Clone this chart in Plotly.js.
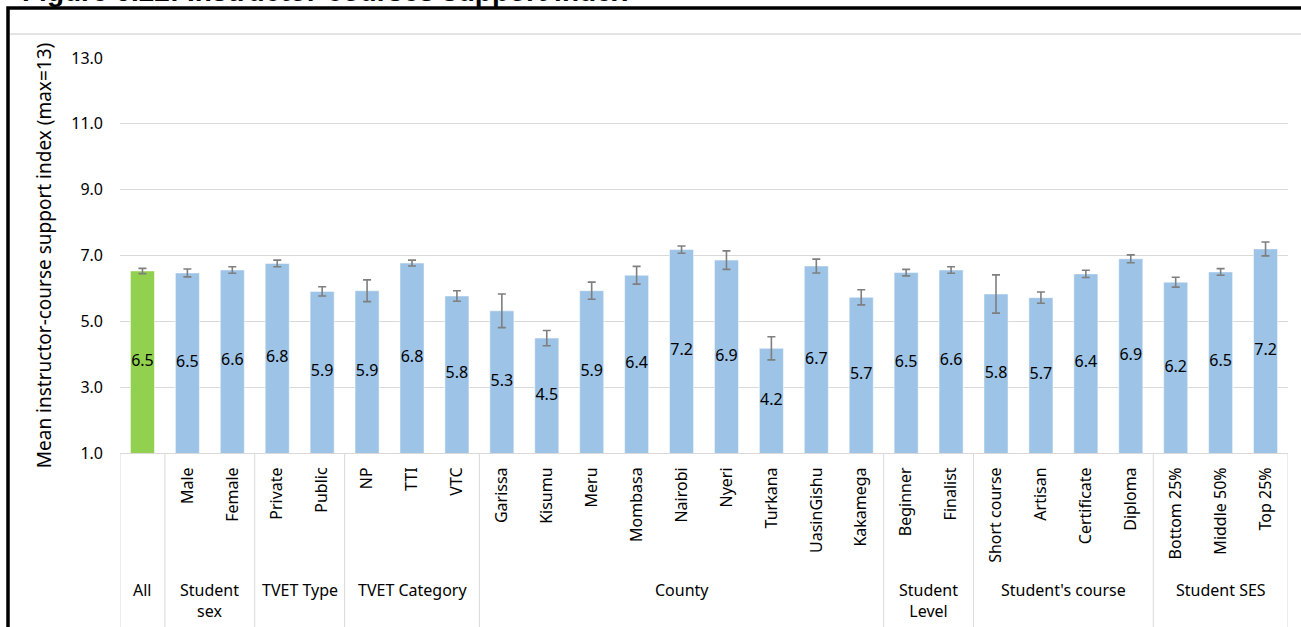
<!DOCTYPE html>
<html>
<head>
<meta charset="utf-8">
<script src="https://cdn.plot.ly/plotly-3.0.1.min.js"></script>
<style>
  html, body { margin: 0; padding: 0; background: #fff; }
  #chart { width: 1301px; height: 627px; }
</style>
</head>
<body>
<div id="chart"></div>
<script>
const categories = ['All','Male','Female','Private','Public','NP','TTI','VTC','Garissa','Kisumu','Meru','Mombasa','Nairobi','Nyeri','Turkana','UasinGishu','Kakamega','Beginner','Finalist','Short course','Artisan','Certificate','Diploma','Bottom 25%','Middle 50%','Top 25%'];
const values = [6.53, 6.47, 6.56, 6.76, 5.91, 5.93, 6.77, 5.77, 5.32, 4.49, 5.93, 6.40, 7.18, 6.86, 4.18, 6.68, 5.73, 6.48, 6.56, 5.83, 5.72, 6.44, 6.90, 6.19, 6.50, 7.20];
const errors = [0.08, 0.12, 0.10, 0.10, 0.14, 0.33, 0.09, 0.16, 0.51, 0.23, 0.26, 0.27, 0.11, 0.28, 0.35, 0.21, 0.23, 0.10, 0.10, 0.58, 0.17, 0.11, 0.12, 0.15, 0.10, 0.21];
const groupLabels = ['All', 'Student<br>sex', 'TVET Type', 'TVET Category', 'County', 'Student<br>Level', "Student's course", 'Student SES'];
const groupSizes = [1, 2, 2, 3, 9, 2, 4, 3];
const yTicks = [1, 3, 5, 7, 9, 11, 13];
const titleText = 'Figure 6.22: Instructor-courses support index';
const yTitle = 'Mean instructor-course support index (max=13)';

// geometry (pixels) -> paper helpers
const W = 1301, H = 627;
const M = {l: 120, r: 13, t: 58, b: 174};
const PW = W - M.l - M.r, PH = H - M.t - M.b;
const px = x => (x - M.l) / PW;
const py = y => (H - M.b - y) / PH;

const fontFam = '"Noto Sans", "Open Sans", sans-serif';

const barColors = categories.map(c => c === 'All' ? '#92d050' : '#9dc3e6');

const bars = {
  type: 'bar',
  x: categories,
  y: values,
  marker: {color: barColors, line: {color: 'rgba(255,255,255,0.5)', width: 1}},
  error_y: {type: 'data', array: errors, visible: true, color: '#7f7f7f', thickness: 1.6, width: 4},
  hoverinfo: 'none',
  showlegend: false
};

const labels = {
  type: 'scatter',
  mode: 'text',
  x: categories,
  y: values.map(v => (1 + v) / 2),
  text: values.map(v => v.toFixed(1)),
  textposition: 'middle center',
  textfont: {family: fontFam, size: 16, color: '#000'},
  cliponaxis: false,
  hoverinfo: 'none',
  showlegend: false
};

// group boundaries
const bounds = [-0.5];
groupSizes.forEach(n => bounds.push(bounds[bounds.length - 1] + n));

const shapes = bounds.map(b => ({
  type: 'line', xref: 'x', yref: 'paper',
  x0: b, x1: b, y0: 0, y1: py(H + 20),
  line: {color: '#d9d9d9', width: 1}
}));
// outer black frame
shapes.push({
  type: 'rect', xref: 'paper', yref: 'paper',
  x0: px(8), x1: px(W + 30), y0: py(8), y1: py(H + 30),
  line: {color: '#000', width: 3.5}, fillcolor: 'rgba(0,0,0,0)'
});
// light line below frame top
shapes.push({
  type: 'line', xref: 'paper', yref: 'paper',
  x0: px(10), x1: px(W + 10), y0: py(34), y1: py(34),
  line: {color: '#e3e3e3', width: 2}
});

const annotations = [];
groupLabels.forEach((g, i) => {
  const center = (bounds[i] + bounds[i + 1]) / 2;
  annotations.push({
    xref: 'x', yref: 'paper', x: center, y: py(577),
    xanchor: 'center', yanchor: 'top',
    text: g, showarrow: false,
    font: {family: fontFam, size: 16, color: '#000'}
  });
});
annotations.push({
  xref: 'paper', yref: 'paper', x: px(20), y: py(-9),
  xanchor: 'left', yanchor: 'middle',
  text: '<b>' + titleText + '</b>', showarrow: false,
  font: {family: 'Liberation Sans, Arial, sans-serif', size: 28, color: '#000'}
});

const layout = {
  width: W, height: H,
  margin: M,
  paper_bgcolor: '#fff',
  plot_bgcolor: '#fff',
  bargap: 0.465,
  showlegend: false,
  hovermode: false,
  font: {family: fontFam, color: '#000'},
  xaxis: {
    type: 'category',
    range: [-0.5, categories.length - 0.5],
    tickmode: 'array',
    tickvals: categories,
    ticktext: categories.map(c => c === 'All' ? '' : c),
    tickangle: -90,
    tickfont: {family: fontFam, size: 16, color: '#000'},
    ticklabelstandoff: 7,
    showgrid: false,
    showline: true,
    linecolor: '#d9d9d9',
    linewidth: 1,
    ticks: '',
    zeroline: false,
    automargin: false,
    fixedrange: true
  },
  yaxis: {
    range: [1, 13],
    tickmode: 'array',
    tickvals: yTicks,
    ticktext: yTicks.map(v => v.toFixed(1)),
    tickfont: {family: fontFam, size: 16, color: '#000'},
    showgrid: true,
    gridcolor: '#d9d9d9',
    gridwidth: 1,
    zeroline: false,
    showline: false,
    ticks: '',
    ticklabelstandoff: 16,
    automargin: false,
    fixedrange: true,
    title: {text: yTitle, font: {family: fontFam, size: 19, color: '#000'}, standoff: 14}
  },
  shapes: shapes,
  annotations: annotations
};

Plotly.newPlot('chart', [bars, labels], layout, {displayModeBar: false, staticPlot: true});
</script>
</body>
</html>
